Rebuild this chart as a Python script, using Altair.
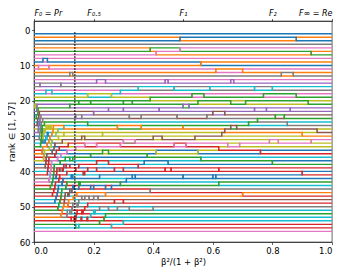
import altair as alt
import pandas as pd

# colour of the line that holds each rank at beta=0 (rank 1 .. 57)
start_colors = [
    "blue", "orange", "blue", "gray", "orange", "green", "pink", "pink", "blue", "orange",
    "pink", "orange", "gray", "pink", "purple", "gray", "pink", "cyan", "olive", "green",
    "cyan", "olive", "purple", "blue", "green", "cyan", "brown", "olive", "purple", "blue",
    "gray", "cyan", "green", "red", "orange", "red", "olive", "blue", "brown", "cyan",
    "red", "gray", "pink", "red", "green", "brown", "red", "cyan", "blue", "red",
    "green", "gray", "orange", "red", "green", "cyan", "pink",
]

# x positions where the line starting at each rank drops one rank (passes the line below)
down_moves = [
    [], [0.49], [0.88], [], [0.39, 0.41], [0.49, 0.93], [], [0.03], [0.045, 0.56], [0.015],
    [0.05, 0.61], [0.12, 0.7, 0.83], [0.13, 0.87], [0.21, 0.44, 0.66], [0.02, 0.24, 0.45, 0.67],
    [0.09, 0.35, 0.59, 0.8], [0.04, 0.29, 0.53, 0.77], [0.06, 0.18, 0.47, 0.74], [0.26, 0.39, 0.55, 0.71],
    [0.15, 0.3, 0.57, 0.88],
    [0.003, 0.006, 0.009, 0.013, 0.016, 0.02, 0.024, 0.028, 0.033, 0.038, 0.045, 0.06, 0.72],
    [0.005, 0.01, 0.014, 0.018, 0.023, 0.029, 0.035, 0.041, 0.048, 0.055, 0.065, 0.08, 0.1, 0.16, 0.63],
    [0.12, 0.25, 0.42, 0.6, 0.78],
    [0.008, 0.012, 0.017, 0.022, 0.027, 0.032, 0.04, 0.047, 0.053, 0.06, 0.07, 0.085, 0.11, 0.19, 0.55],
    [0.19, 0.33, 0.5, 0.66, 0.92],
    [0.011, 0.015, 0.021, 0.026, 0.031, 0.037, 0.043, 0.05, 0.058, 0.067, 0.075, 0.09, 0.105, 0.13, 0.21, 0.37],
    [0.2, 0.32, 0.48, 0.64, 0.81],
    [0.014, 0.019, 0.025, 0.03, 0.036, 0.042, 0.049, 0.057, 0.064, 0.073, 0.082, 0.095, 0.115, 0.14, 0.23, 0.41, 0.69],
    [0.14, 0.3, 0.52, 0.74, 0.86],
    [0.018, 0.024, 0.03, 0.037, 0.044, 0.052, 0.061, 0.07, 0.079, 0.088, 0.1, 0.12, 0.15, 0.18, 0.27, 0.45],
    [0.16, 0.36, 0.58, 0.75, 0.85],
    [0.022, 0.029, 0.035, 0.043, 0.05, 0.059, 0.068, 0.077, 0.087, 0.098, 0.11, 0.125, 0.17, 0.22, 0.31, 0.62],
    [0.18, 0.28, 0.5, 0.66, 0.84],
    [0.027, 0.034, 0.041, 0.049, 0.058, 0.067, 0.076, 0.086, 0.097, 0.11, 0.13, 0.15, 0.2, 0.26, 0.39, 0.7],
    [0.1, 0.36, 0.5, 0.64, 0.9],
    [0.032, 0.04, 0.048, 0.056, 0.066, 0.074, 0.085, 0.095, 0.108, 0.12, 0.14, 0.165, 0.21, 0.3, 0.46],
    [0.23, 0.4, 0.54, 0.79, 0.93],
    [0.038, 0.046, 0.055, 0.065, 0.075, 0.083, 0.094, 0.107, 0.12, 0.135, 0.155, 0.19, 0.24, 0.34, 0.6],
    [0.17, 0.3, 0.43, 0.68, 0.95],
    [0.045, 0.054, 0.063, 0.072, 0.082, 0.093, 0.105, 0.118, 0.132, 0.15, 0.18, 0.22, 0.28, 0.4],
    [0.17, 0.29, 0.51, 0.62, 0.76],
    [0.05, 0.06, 0.07, 0.08, 0.092, 0.103, 0.116, 0.13, 0.148, 0.17, 0.2, 0.25, 0.32],
    [0.21, 0.34, 0.47, 0.65, 0.82],
    [0.055, 0.066, 0.078, 0.09, 0.102, 0.114, 0.128, 0.145, 0.165, 0.19, 0.235, 0.3],
    [0.12, 0.25, 0.38, 0.56, 0.8],
    [0.062, 0.074, 0.087, 0.1, 0.113, 0.127, 0.143, 0.16, 0.185, 0.215, 0.27],
    [0.25, 0.35, 0.44, 0.62, 0.9],
    [0.07, 0.083, 0.097, 0.112, 0.126, 0.142, 0.158, 0.178, 0.205, 0.24],
    [0.13, 0.33, 0.5, 0.61],
    [0.08, 0.095, 0.11, 0.125, 0.14, 0.16, 0.18, 0.22, 0.26],
    [0.15, 0.29],
    [0.09, 0.12, 0.145, 0.17, 0.2],
    [0.1, 0.24],
    [0.135, 0.16, 0.3],
    [0.14], [0.15], [],
]

top_ticks = [0.0, 0.2, 0.5, 0.8, 1.0]
top_labels = ["F₀ = Pr", "F₀.₅", "F₁", "F₂", "F∞ = Re"]
dotted_x = 0.137
dotted_span = [0.6, 56.7]

tab10 = {
    "blue": "#1f77b4", "orange": "#ff7f0e", "green": "#2ca02c", "red": "#d62728",
    "purple": "#9467bd", "brown": "#8c564b", "pink": "#e377c2", "gray": "#7f7f7f",
    "olive": "#bcbd22", "cyan": "#17becf",
}

n = len(start_colors)
slot_of = list(range(1, n + 1))
line_at = {s: s - 1 for s in range(1, n + 1)}
points = {i: [(0.0, slot_of[i])] for i in range(n)}
events = sorted((x, i) for i, xs in enumerate(down_moves) for x in xs)
for x, i in events:
    s = slot_of[i]
    if s >= n:
        continue
    j = line_at[s + 1]
    slot_of[i], slot_of[j] = s + 1, s
    line_at[s], line_at[s + 1] = j, i
    points[i].append((x, s + 1))
    points[j].append((x, s))

rows = []
for i in range(n):
    pts = points[i] + [(1.0, slot_of[i])]
    for k, (x, r) in enumerate(pts):
        rows.append({"line": i, "seq": k, "x": x, "rank": r, "color": tab10[start_colors[i]]})
df = pd.DataFrame(rows)

label_expr = " : ".join(
    f"datum.value == {v} ? '{t}'" for v, t in zip(top_ticks, top_labels)
) + " : ''"

xscale = alt.Scale(domain=[0, 1], nice=False, zero=False)
yscale = alt.Scale(domain=[-2.6, 60], reverse=True, nice=False, zero=False)
yaxis = alt.Axis(values=[0, 10, 20, 30, 40, 50, 60], title="rank ∈ [1, 57]",
                 labelOverlap=False, labelFontSize=8.5)

lines = alt.Chart(df).mark_line(interpolate="step-after", strokeWidth=1.4).encode(
    x=alt.X("x:Q", scale=xscale,
            axis=alt.Axis(values=[0, 0.2, 0.4, 0.6, 0.8, 1.0], format=".1f",
                          title="β²/(1 + β²)", orient="bottom", labelOverlap=False)),
    y=alt.Y("rank:Q", scale=yscale, axis=yaxis),
    color=alt.Color("color:N", scale=None),
    detail="line:N",
    order="seq:Q",
)

dot_df = pd.DataFrame({"x": [dotted_x], "y1": [dotted_span[0]], "y2": [dotted_span[1]]})
dotted = alt.Chart(dot_df).mark_rule(color="black", strokeDash=[1.5, 1.5], strokeWidth=1.3).encode(
    x=alt.X("x:Q", scale=xscale,
            axis=alt.Axis(values=top_ticks, labelExpr=label_expr, orient="top", title=None,
                          labelFontStyle="italic", labelOverlap=False, labelFontSize=8,
                          labelPadding=1)),
    y=alt.Y("y1:Q", scale=yscale, axis=yaxis),
    y2="y2:Q",
)

chart = alt.layer(lines, dotted).resolve_axis(x="independent").properties(
    width=298, height=221,
    autosize=alt.AutoSizeParams(type="none"),
    padding={"left": 26, "top": 13, "right": 14, "bottom": 26},
).configure_axis(
    grid=False, labelFont="DejaVu Sans", titleFont="DejaVu Sans",
    labelFontSize=8.5, titleFontSize=8.5, titleFontWeight="normal",
    labelColor="black", titleColor="black", domainColor="black", tickColor="black",
    tickSize=2.5, tickWidth=0.6, domainWidth=0.6, labelPadding=1.5,
).configure_axisY(titlePadding=3).configure_axisX(titlePadding=3).configure_view(
    stroke="black", strokeWidth=0.6
)

chart.save("out.html", embed_options={"renderer": "svg", "actions": False})
